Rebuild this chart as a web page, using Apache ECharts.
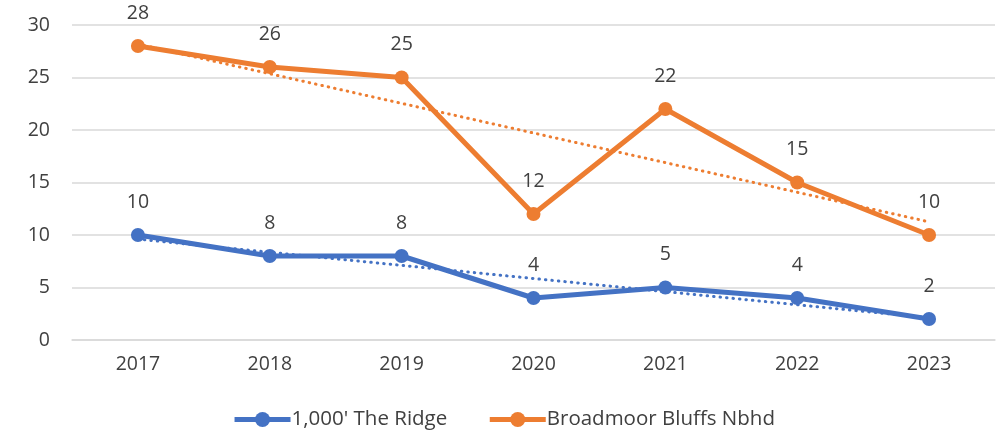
<!DOCTYPE html>
<html><head><meta charset="utf-8">
<script src="https://cdn.jsdelivr.net/npm/echarts@6/dist/echarts.min.js"></script>
<style>html,body{margin:0;padding:0;background:#fff}#c{width:1007px;height:436px}</style>
</head><body><div id="c"></div>
<script>
const years = ['2017','2018','2019','2020','2021','2022','2023'];
const ridge = [10, 8, 8, 4, 5, 4, 2];
const broadmoor = [28, 26, 25, 12, 22, 15, 10];
const yTicks = [0, 5, 10, 15, 20, 25, 30];

// Linear trendline (least squares), as in the original's trendlines
function trend(vals) {
  const n = vals.length;
  let sx = 0, sy = 0, sxy = 0, sxx = 0;
  vals.forEach((v, i) => { sx += i; sy += v; sxy += i * v; sxx += i * i; });
  const b = (n * sxy - sx * sy) / (n * sxx - sx * sx);
  const a = (sy - b * sx) / n;
  return vals.map((v, i) => +(a + b * i).toFixed(3));
}

const BLUE = '#4472C4', ORANGE = '#ED7D31';
const FONT = '"Open Sans", "Liberation Sans", sans-serif';
const chart = echarts.init(document.getElementById('c'));
const lab = { show: true, position: 'top', distance: 16, color: '#404040', fontSize: 19.5, fontFamily: FONT };
chart.setOption({
  animation: false,
  grid: { left: 72, right: 12, top: 25, bottom: 96 },
  legend: {
    bottom: 1, left: 'center', itemWidth: 56, itemHeight: 19, itemGap: 40,
    data: [
      { name: "1,000' The Ridge", lineStyle: { width: 5 } },
      { name: 'Broadmoor Bluffs Nbhd', lineStyle: { width: 5 } }
    ],
    textStyle: { color: '#404040', fontSize: 20.5, fontFamily: FONT, padding: [0, 0, 0, -4] }
  },
  xAxis: {
    type: 'category', data: years, boundaryGap: true,
    axisLine: { lineStyle: { color: '#d9d9d9', width: 1.5 } },
    axisTick: { show: false },
    axisLabel: { color: '#404040', fontSize: 19.5, fontFamily: FONT, margin: 14 }
  },
  yAxis: {
    type: 'value', min: yTicks[0], max: yTicks[yTicks.length - 1], interval: 5,
    axisLine: { show: false }, axisTick: { show: false },
    splitLine: { lineStyle: { color: '#d9d9d9', width: 1.5 } },
    axisLabel: { color: '#404040', fontSize: 19.5, fontFamily: FONT, margin: 22 }
  },
  series: [
    { name: "1,000' The Ridge", type: 'line', data: ridge, symbol: 'circle', symbolSize: 14,
      color: BLUE, itemStyle: { color: BLUE }, lineStyle: { color: BLUE, width: 5 }, label: lab, z: 3 },
    { name: 'Broadmoor Bluffs Nbhd', type: 'line', data: broadmoor, symbol: 'circle', symbolSize: 14,
      color: ORANGE, itemStyle: { color: ORANGE }, lineStyle: { color: ORANGE, width: 5 }, label: lab, z: 3 },
    { name: 'Trend Ridge', type: 'line', data: trend(ridge), symbol: 'none', silent: true,
      color: BLUE, lineStyle: { color: BLUE, width: 3, type: [0.5, 6], cap: 'round' }, z: 1 },
    { name: 'Trend Broadmoor', type: 'line', data: trend(broadmoor), symbol: 'none', silent: true,
      color: ORANGE, lineStyle: { color: ORANGE, width: 3, type: [0.5, 6], cap: 'round' }, z: 1 }
  ]
});
</script></body></html>
